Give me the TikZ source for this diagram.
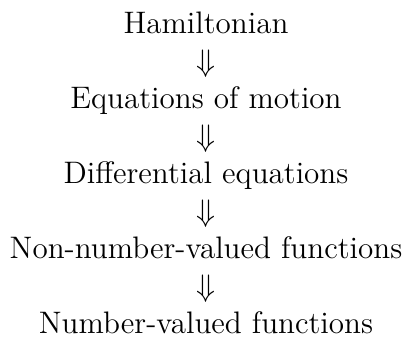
\documentclass[tikz,border=0pt,12pt]{standalone}
\begin{document}
\begin{tikzpicture}[x=0.386pt,y=-0.386pt,
  stage/.style={inner sep=0pt,anchor=base},
  implies/.style={inner sep=0pt,anchor=base}]
\useasboundingbox (0,0) rectangle (412,343);
\node[stage] (h) at (206,34) {Hamiltonian};
\node[implies] (a1) at (206,71.5) {$\Downarrow$};
\node[stage] (e) at (206,109) {Equations of motion};
\node[implies] (a2) at (206,146.5) {$\Downarrow$};
\node[stage] (d) at (206,184) {Differential equations};
\node[implies] (a3) at (206,221.5) {$\Downarrow$};
\node[stage] (n) at (206,259) {Non-number-valued functions};
\node[implies] (a4) at (206,296.5) {$\Downarrow$};
\node[stage] (f) at (206,334) {Number-valued functions};
\end{tikzpicture}
\end{document}
